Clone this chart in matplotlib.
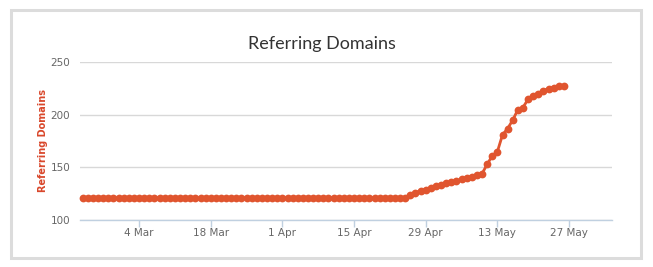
import matplotlib
matplotlib.use("Agg")
import matplotlib.pyplot as plt
from matplotlib.patches import Rectangle
import pandas as pd

# ---------------- data ----------------
start_date = "2019-02-21"          # first daily point
# Feb 21 .. Apr 25 : flat period
flat_part = [
    121, 121, 121, 121, 121, 121, 121, 121, 121, 121, 121, 121, 121, 121, 121, 121,
    121, 121, 121, 121, 121, 121, 121, 121, 121, 121, 121, 121, 121, 121, 121, 121,
    121, 121, 121, 121, 121, 121, 121, 121, 121, 121, 121, 121, 121, 121, 121, 121,
    121, 121, 121, 121, 121, 121, 121, 121, 121, 121, 121, 121, 121, 121, 121, 121,
]
# Apr 26 .. May 10 : slow growth
slow_part = [124, 126, 128, 129, 130, 132, 133, 135, 136, 137, 139, 140, 141, 143, 144]
# May 11 .. May 26 : fast growth
fast_part = [153, 161, 165, 181, 187, 195, 205, 207, 215, 218, 220, 223, 225, 226, 227, 227]

domains = flat_part + slow_part + fast_part
dates = pd.date_range(start_date, periods=len(domains), freq="D")

tick_dates = pd.to_datetime(["2019-03-04", "2019-03-18", "2019-04-01", "2019-04-15",
                             "2019-04-29", "2019-05-13", "2019-05-27"])
y_ticks = [100, 150, 200, 250]

line_color = "#e0552f"
label_color = "#d9472b"

# ---------------- figure ----------------
fig = plt.figure(figsize=(6.53, 2.67), dpi=100)
fig.patch.set_facecolor("white")

# outer frame
fig.patches.append(Rectangle((11 / 653, 1 - 258 / 267), 630 / 653, 248 / 267,
                             transform=fig.transFigure, fill=False,
                             edgecolor="#dcdcdc", lw=2.2))

ax = fig.add_axes([80 / 653, 1 - 220 / 267, (611.7 - 80) / 653, (220 - 62.3) / 267])

ax.plot(dates, domains, color=line_color, lw=2, marker="o", ms=5.6,
        markeredgewidth=0, zorder=3, clip_on=False)

ax.set_ylim(100, 250)
ax.set_yticks(y_ticks)
ax.set_xlim(pd.Timestamp("2019-02-20 11:00"), pd.Timestamp("2019-06-04 08:00"))
ax.set_xticks(tick_dates)
ax.set_xticklabels([f"{d.day} {d:%b}" for d in tick_dates])

ax.grid(axis="y", color="#d8d8d8", lw=1)
ax.set_axisbelow(True)
for s in ["top", "right", "left"]:
    ax.spines[s].set_visible(False)
ax.spines["bottom"].set_color("#c0d0e0")
ax.spines["bottom"].set_linewidth(1)

ax.tick_params(axis="y", length=0, pad=7, labelsize=7.5, labelcolor="#666666")
ax.tick_params(axis="x", length=5, width=1, color="#c0d0e0", pad=1,
               labelsize=7.5, labelcolor="#666666")

fig.text(322 / 653, 1 - 44 / 267, "Referring Domains", ha="center", va="center",
         fontsize=13, color="#333333", family="Lato")
fig.text(42.5 / 653, 1 - 141 / 267, "Referring Domains", ha="center", va="center",
         rotation=90, fontsize=7, fontweight="bold", color=label_color)

fig.savefig("out.png", dpi=100)
